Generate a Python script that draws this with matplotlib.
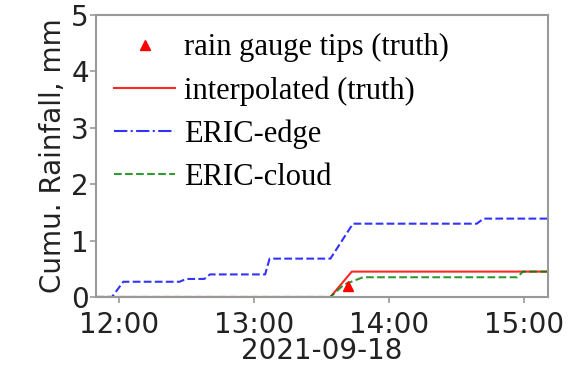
#!/usr/bin/env python3
"""Cumulative rainfall: rain gauge truth vs ERIC edge/cloud estimates."""
from datetime import datetime, timedelta

import matplotlib
matplotlib.use("Agg")
import matplotlib.dates as mdates  # noqa: E402
import matplotlib.pyplot as plt  # noqa: E402
from matplotlib.lines import Line2D  # noqa: E402

DAY = datetime(2021, 9, 18, 12, 0)

# minutes after 12:00 and cumulative rainfall (mm)
tip_min = [102]
tip_mm = [0.2]

interp_min = [-10, 94, 103.5, 191]
interp_mm = [0.0, 0.0, 0.45, 0.45]

edge_min = [-10, -3, 2, 27, 30, 38, 40.5, 65, 67, 94, 104, 159, 162, 191]
edge_mm = [0.0, 0.0, 0.27, 0.27, 0.32, 0.32, 0.40, 0.40, 0.68, 0.68, 1.30, 1.30, 1.39, 1.39]

cloud_min = [-10, 94, 100, 108.5, 177, 179.5, 191]
cloud_mm = [0.0, 0.0, 0.22, 0.35, 0.35, 0.45, 0.45]

SPINE = "#999999"
TXT = "#222222"


def _t(mins):
    return [DAY + timedelta(minutes=m) for m in mins]


def main():
    fig = plt.figure(figsize=(5.77, 3.68), dpi=100)
    ax = fig.add_axes([0.166, 0.193, 0.784, 0.766])

    ax.plot(_t(interp_min), interp_mm, "-", color="red", lw=1.5, alpha=0.85)
    ax.plot(_t(edge_min), edge_mm, "--", color="blue", lw=1.5, alpha=0.8)
    ax.plot(_t(cloud_min), cloud_mm, "--", color="green", lw=1.5, alpha=0.8)
    ax.plot(_t(tip_min), tip_mm, "^", color="red", ms=7, ls="none")

    ax.set_xlim(DAY - timedelta(minutes=10.2), DAY + timedelta(minutes=190.7))
    ax.set_ylim(0, 5)
    ax.xaxis.set_major_locator(mdates.HourLocator())
    ax.xaxis.set_major_formatter(mdates.DateFormatter("%H:%M"))
    ax.set_xlabel("2021-09-18", fontsize=20, labelpad=-1, color=TXT)
    ax.set_ylabel("Cumu. Rainfall, mm", fontsize=20, labelpad=3, color=TXT)
    ax.tick_params(labelsize=20, color=SPINE, width=1.2, length=4,
                   labelcolor=TXT)
    ax.tick_params(axis="x", pad=6)
    ax.tick_params(axis="y", pad=1)
    for s in ax.spines.values():
        s.set_color(SPINE)
        s.set_linewidth(1.5)

    handles = [
        Line2D([], [], marker="^", color="red", ls="none", ms=7),
        Line2D([], [], color="red", lw=1.5, alpha=0.85),
        Line2D([], [], color="blue", lw=1.5, ls="-.", alpha=0.8),
        Line2D([], [], color="green", lw=1.5, ls="--", alpha=0.8),
    ]
    labels = ["rain gauge tips (truth)", "interpolated (truth)", "ERIC-edge", "ERIC-cloud"]
    ax.legend(handles, labels, loc="upper left", frameon=False,
              prop={"family": "Liberation Serif", "size": 22},
              handlelength=2.0, handletextpad=0.3, labelspacing=0.45,
              borderaxespad=0.35, borderpad=0.25)

    fig.savefig("out.png", dpi=100)
    plt.close(fig)


if __name__ == "__main__":
    main()
